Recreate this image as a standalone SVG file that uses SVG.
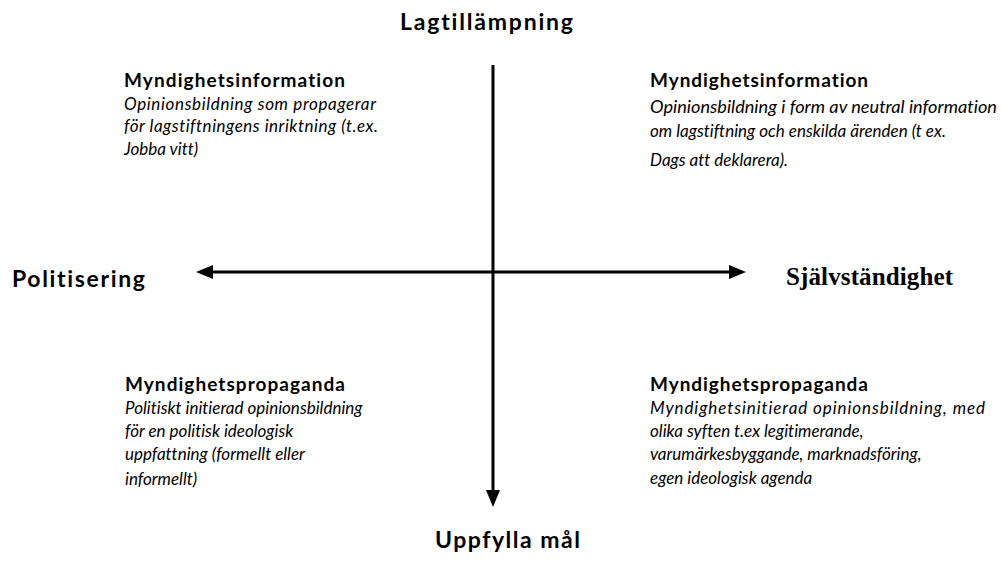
<svg xmlns="http://www.w3.org/2000/svg" width="1002" height="567" viewBox="0 0 1002 567">
<style>
text{font-variant-ligatures:none}
.ax{font-family:Lato,"Open Sans","Liberation Sans",sans-serif;font-weight:bold;font-size:23px;fill:#000}
.axs{font-family:"Liberation Serif",serif;font-weight:bold;font-size:25px;fill:#000}
.t{font-family:Lato,"Open Sans","Liberation Sans",sans-serif;font-weight:bold;font-size:19px;fill:#000}
.d{font-family:Lato,"Open Sans","Liberation Sans",sans-serif;font-style:italic;font-size:17px;fill:#000}
.axis{stroke:#000;stroke-width:3;fill:none}
</style>
<defs>
<marker id="ah" viewBox="0 0 17 14" refX="0" refY="7" markerWidth="17" markerHeight="14" markerUnits="userSpaceOnUse" orient="auto-start-reverse">
<path d="M0,0 L17,7 L0,14 Z" fill="#000"/>
</marker>
</defs>
<g id="connectors">
<line class="axis" x1="213" y1="272" x2="729" y2="272" marker-start="url(#ah)" marker-end="url(#ah)"/>
<line class="axis" x1="493" y1="65" x2="493" y2="490" marker-end="url(#ah)"/>
</g>
<g id="axis-top"><text class="ax" x="400" y="30" textLength="173">Lagtillämpning</text></g>
<g id="axis-left"><text class="ax" x="12" y="287" textLength="133">Politisering</text></g>
<g id="axis-right"><text class="axs" x="786" y="285" textLength="167">Självständighet</text></g>
<g id="axis-bottom"><text class="ax" x="435" y="548" textLength="145">Uppfylla mål</text></g>
<g id="q-top-left">
<text class="t" x="124" y="87" textLength="221">Myndighetsinformation</text>
<text class="d" x="124" y="110" textLength="252">Opinionsbildning som propagerar</text>
<text class="d" x="124" y="132" textLength="254">för lagstiftningens inriktning (t.ex.</text>
<text class="d" x="124" y="155">Jobba vitt)</text>
</g>
<g id="q-top-right">
<text class="t" x="650" y="87" textLength="218">Myndighetsinformation</text>
<text class="d" x="650" y="113" textLength="347" lengthAdjust="spacingAndGlyphs">Opinionsbildning i form av neutral information</text>
<text class="d" x="650" y="137">om lagstiftning och enskilda ärenden (t ex.</text>
<text class="d" x="650" y="166">Dags att deklarera).</text>
</g>
<g id="q-bottom-left">
<text class="t" x="125" y="391" textLength="220">Myndighetspropaganda</text>
<text class="d" x="125" y="414">Politiskt initierad opinionsbildning</text>
<text class="d" x="125" y="437">för en politisk ideologisk</text>
<text class="d" x="125" y="460">uppfattning (formellt eller</text>
<text class="d" x="125" y="485">informellt)</text>
</g>
<g id="q-bottom-right">
<text class="t" x="650" y="391" textLength="218">Myndighetspropaganda</text>
<text class="d" x="650" y="414" textLength="335">Myndighetsinitierad opinionsbildning, med</text>
<text class="d" x="650" y="437">olika syften t.ex legitimerande,</text>
<text class="d" x="650" y="460">varumärkesbyggande, marknadsföring,</text>
<text class="d" x="650" y="484">egen ideologisk agenda</text>
</g>
</svg>
